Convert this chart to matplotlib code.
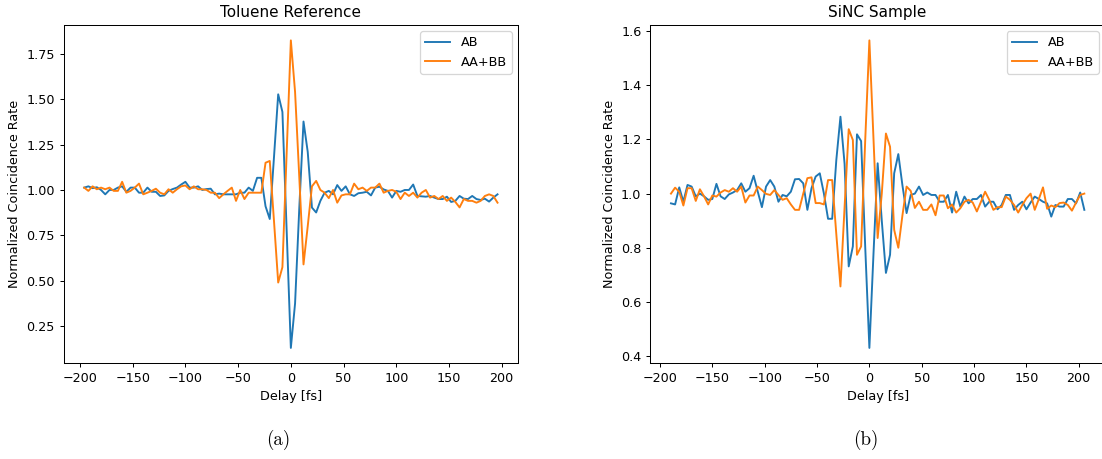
import numpy as np
import matplotlib
matplotlib.use("Agg")
import matplotlib.pyplot as plt

# ---- Toluene reference: delay axis (fs) and normalized coincidence rates ----
delay_tol = np.arange(-196, 197, 4)
ab_tol = [
    1.013, 1.02, 1.01, 1.015, 1.0, 0.976, 1.0, 1.0, 1.013, 1.02,
    0.99, 1.013, 1.013, 0.985, 0.985, 1.013, 0.99, 0.99, 0.967, 0.97,
    0.995, 1.005, 1.013, 1.03, 1.045, 1.013, 1.013, 1.02, 1.0, 1.005,
    1.007, 0.976, 0.98, 0.976, 0.976, 0.976, 0.976, 0.985, 0.985, 1.013,
    0.995,
    1.067, 1.067, 0.91, 0.84, 1.18, 1.527, 1.43, 0.78, 0.13, 0.375,
    0.9, 1.377, 1.21, 0.903, 0.876, 0.94, 0.985,
    0.995, 0.976, 1.027, 0.995, 1.02, 0.976, 0.967, 0.982, 0.985, 0.99,
    0.97, 1.013, 1.018, 1.003, 0.995, 0.958, 0.995, 0.99, 1.0, 1.0,
    1.03, 0.967, 0.965, 0.963, 0.967, 0.958, 0.95, 0.95, 0.963, 0.934,
    0.94, 0.967, 0.952, 0.95, 0.967, 0.95, 0.945, 0.952, 0.936, 0.958,
    0.976,
]
aabb_tol = [
    1.013, 0.995, 1.02, 1.004, 1.013, 1.004, 1.013, 0.995, 0.995, 1.045,
    0.985, 0.995, 1.013, 1.035, 0.976, 0.985, 0.995, 1.007, 0.985, 0.976,
    1.004, 0.985, 1.004, 1.02, 1.025, 1.004, 1.02, 1.004, 1.004, 1.0,
    0.985, 0.985, 0.955, 0.976, 0.995, 1.013, 0.94, 1.0, 0.95, 0.985,
    0.985, 0.985, 0.985,
    1.15, 1.16, 0.83, 0.49, 0.575, 1.2, 1.824, 1.54, 1.07, 0.59,
    0.8, 1.02, 1.05, 1.0, 0.985, 0.955, 1.0, 0.93,
    0.97, 0.976, 0.976, 1.035, 1.004, 1.013, 0.995, 1.013, 1.013, 1.035,
    0.985, 0.995, 1.0, 0.99, 0.95, 0.985, 0.967, 0.985, 0.958, 0.985,
    1.0, 0.958, 0.967, 0.95, 0.967, 0.94, 0.958, 0.934, 0.904, 0.95,
    0.94, 0.94, 0.93, 0.94, 0.967, 0.976, 0.967, 0.93,
]

# ---- SiNC sample: delay axis (fs) and normalized coincidence rates ----
delay_sinc = 3.95 * np.arange(-48, 53)
ab_sinc = [
    0.964, 0.96, 1.023, 0.97, 1.032, 1.026, 0.99, 1.0, 0.99,
    0.977, 0.98, 1.036, 0.99, 0.98, 0.997, 1.004, 1.013, 1.038, 1.007, 1.02, 1.066,
    1.007, 0.95, 1.026, 1.05, 1.026, 0.97, 0.995, 0.99, 1.007, 1.053,
    1.054, 1.038, 0.94, 1.02, 1.063, 1.075, 1.0, 0.907, 0.907, 1.124,
    1.284, 1.11, 0.731, 0.805, 1.219, 1.194, 0.8,
    0.43,
    0.78, 1.112, 0.9, 0.707, 0.774, 1.075, 1.146, 1.03, 0.928, 0.995,
    1.0, 1.026, 0.995, 1.004, 0.995, 0.995, 0.97, 0.97, 0.995, 0.93,
    1.007, 0.952, 0.989, 0.964, 0.98, 0.98, 0.995, 0.952, 0.97, 0.97,
    0.942, 0.958, 0.995, 0.995, 0.94, 0.958, 0.97, 0.942, 0.967, 0.989,
    0.98,
    0.97, 0.964, 0.915, 0.958, 0.952, 0.952, 0.98, 0.98, 0.964, 1.004, 0.94,
]
aabb_sinc = [
    1.0, 1.022, 1.007, 0.956, 1.02, 1.02, 0.973, 1.016, 0.99,
    0.96, 0.993, 0.989, 1.004, 1.013, 1.007, 1.02, 1.007, 1.026, 0.967, 0.993, 0.993,
    1.026, 1.013, 0.999, 0.995, 1.013, 0.995, 0.977, 0.983, 0.96, 0.94,
    0.94, 1.0, 1.057, 1.06, 0.965, 0.965, 0.96, 1.05, 1.05, 0.85,
    0.657, 0.95, 1.238, 1.198, 0.774, 0.805, 1.2,
    1.566,
    1.2, 0.836, 1.0, 1.222, 1.173, 0.866, 0.80, 0.92, 1.026, 1.01,
    0.947, 0.97, 0.94, 0.94, 0.96, 0.92, 0.993, 0.993, 0.946, 0.96,
    0.93, 0.946, 0.97, 0.977, 0.967, 0.934, 0.97, 1.007, 0.977, 0.94,
    0.95, 0.95, 0.989, 0.977, 0.958, 0.93, 0.958, 0.983, 1.0, 0.94,
    0.98,
    1.023, 0.944, 0.956, 0.95, 0.965, 0.967, 0.958, 0.937, 0.967, 0.995, 1.0,
]

titles = ["Toluene Reference", "SiNC Sample"]
captions = ["(a)", "(b)"]
series_labels = ["AB", "AA+BB"]

W, H, DPI = 1102, 459, 91.5
fig = plt.figure(figsize=(W / DPI, H / DPI), dpi=DPI)

ax_w, ax_h, ax_y = 454.7 / W, 338.3 / H, (H - 363.3) / H
axes = [
    fig.add_axes([63.5 / W, ax_y, ax_w, ax_h]),
    fig.add_axes([650.3 / W, ax_y, ax_w, ax_h]),
]

datasets = [
    (delay_tol, ab_tol, aabb_tol),
    (delay_sinc, ab_sinc, aabb_sinc),
]

for ax, (x, ab, aabb), title in zip(axes, datasets, titles):
    ax.plot(x, ab, color="#1f77b4", label=series_labels[0])
    ax.plot(x, aabb, color="#ff7f0e", label=series_labels[1])
    ax.set_title(title)
    ax.set_xlabel("Delay [fs]")
    ax.set_ylabel("Normalized Coincidence Rate")
    ax.set_xticks([-200, -150, -100, -50, 0, 50, 100, 150, 200])
    ax.legend(loc="upper right")

axes[0].set_yticks([0.25, 0.5, 0.75, 1.0, 1.25, 1.5, 1.75])
axes[1].set_yticks([0.4, 0.6, 0.8, 1.0, 1.2, 1.4, 1.6])

for cx, cap in zip([278, 866], captions):
    fig.text(cx / W, 1 - 440 / H, cap, ha="center", va="center",
             family="cmr10", fontsize=15)

fig.savefig("out.png", dpi=DPI)
